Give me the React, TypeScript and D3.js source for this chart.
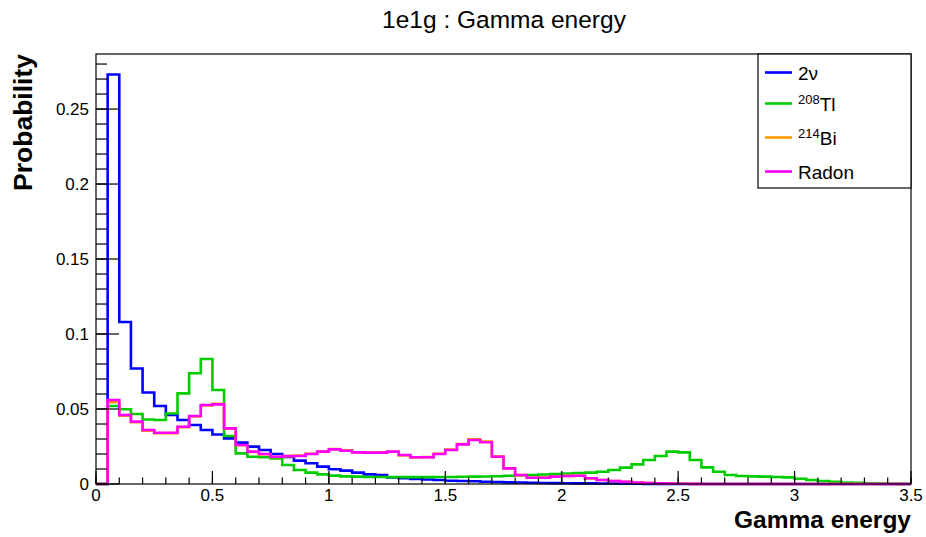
import React from "react";
import * as d3 from "d3";

const binEdges = d3.range(0, 3.5001, 0.05).map((v) => +v.toFixed(2));
const xTickLabels = ["0", "0.5", "1", "1.5", "2", "2.5", "3", "3.5"];
const yTickLabels = ["0", "0.05", "0.1", "0.15", "0.2", "0.25"];

const twoNu = [
  0, 0.273, 0.108, 0.077, 0.061, 0.052, 0.046, 0.0427, 0.0393, 0.036,
  0.033, 0.0304, 0.0276, 0.0249, 0.0227, 0.02, 0.018, 0.0156, 0.0138, 0.0116,
  0.0098, 0.0089, 0.0076, 0.0064, 0.006, 0.0044, 0.0038, 0.0033, 0.003, 0.0027,
  0.0022, 0.002, 0.0018, 0.0015, 0.0013, 0.0011, 0.001, 0.0008, 0.0007, 0.0006,
  0.0005, 0.0004, 0.0004, 0.0003, 0.0003, 0.0002, 0.0002, 0.0001, 0.0001, 0,
  0, 0, 0, 0, 0, 0, 0, 0, 0, 0,
  0, 0, 0, 0, 0, 0, 0, 0, 0, 0,
];

const tl208 = [
  0, 0.052, 0.0498, 0.0467, 0.043, 0.0427, 0.047, 0.0604, 0.0738, 0.0833,
  0.0627, 0.032, 0.0204, 0.0182, 0.0178, 0.017, 0.0127, 0.0093, 0.0076, 0.0064,
  0.0056, 0.0051, 0.0049, 0.0047, 0.0047, 0.0046, 0.0046, 0.0046, 0.0046, 0.0047,
  0.0047, 0.0048, 0.0049, 0.005, 0.0052, 0.0055, 0.0058, 0.006, 0.0063, 0.0066,
  0.007, 0.0073, 0.0076, 0.0082, 0.0093, 0.0109, 0.0131, 0.016, 0.0187, 0.0216,
  0.0211, 0.016, 0.0111, 0.0082, 0.006, 0.0053, 0.0051, 0.0049, 0.0047, 0.0044,
  0.0035, 0.0027, 0.002, 0.0015, 0.001, 0.0008, 0.0005, 0.0003, 0.0002, 0.0001,
];

const bi214 = [
  0, 0.0545, 0.0455, 0.0412, 0.0355, 0.0338, 0.0339, 0.0379, 0.045, 0.0524,
  0.0534, 0.0368, 0.0258, 0.0213, 0.0198, 0.018, 0.0186, 0.0189, 0.0202, 0.0218,
  0.0233, 0.0224, 0.0212, 0.0208, 0.021, 0.0215, 0.0191, 0.0177, 0.0179, 0.0202,
  0.0229, 0.0266, 0.0298, 0.0283, 0.0184, 0.0103, 0.0059, 0.0042, 0.0043, 0.0049,
  0.0054, 0.0055, 0.0037, 0.0027, 0.002, 0.0015, 0.001, 0.0007, 0.0005, 0.0003,
  0.0002, 0.0001, 0, 0, 0, 0, 0, 0, 0, 0,
  0, 0, 0, 0, 0, 0, 0, 0, 0, 0,
];

const radon = [
  0, 0.056, 0.046, 0.0416, 0.036, 0.0342, 0.0342, 0.0382, 0.0453, 0.0527,
  0.0531, 0.0371, 0.026, 0.0216, 0.02, 0.0182, 0.0187, 0.0187, 0.02, 0.0216,
  0.0231, 0.0222, 0.0211, 0.0209, 0.0209, 0.0216, 0.0193, 0.0178, 0.0178, 0.02,
  0.0227, 0.0264, 0.0293, 0.0278, 0.0182, 0.0104, 0.006, 0.0042, 0.0042, 0.0049,
  0.0053, 0.0055, 0.0038, 0.0027, 0.002, 0.0015, 0.001, 0.0007, 0.0005, 0.0003,
  0.0002, 0.0001, 0, 0, 0, 0, 0, 0, 0, 0,
  0, 0, 0, 0, 0, 0, 0, 0, 0, 0,
];

const seriesNames = ["2ν", "208Tl", "214Bi", "Radon"];
const seriesColors = ["#0000ff", "#00cc00", "#ff9900", "#ff00ff"];
const seriesData = [twoNu, tl208, bi214, radon];

const W = 926;
const H = 537;
const FONT = "'Liberation Sans', Arial, Helvetica, sans-serif";

export default function App() {
  const left = 96,
    right = 911,
    top = 54,
    bottom = 484;
  const x = d3.scaleLinear().domain([0, 3.5]).range([left, right]);
  const yMax = 0.2867;
  const y = d3.scaleLinear().domain([0, yMax]).range([bottom, top]);

  const stepPath = (vals: number[]) => {
    const p = d3.path();
    vals.forEach((v, i) => {
      const x0 = x(binEdges[i]);
      const x1 = x(binEdges[i + 1]);
      if (i === 0) p.moveTo(x0, y(v));
      else p.lineTo(x0, y(v));
      p.lineTo(x1, y(v));
    });
    return p.toString();
  };

  const yMinor = d3.range(0, 29).map((i) => i * 0.01).filter((v) => v <= yMax);
  const yMajor = d3.range(0, 6).map((i) => i * 0.05);
  const xMinor = d3.range(0, 36).map((i) => i * 0.1);
  const xMajor = d3.range(0, 8).map((i) => i * 0.5);

  const legendY = [72.5, 103.5, 137.5, 171.5];

  return (
    <svg
      width={W}
      height={H}
      style={{ position: "absolute", left: 0, top: 0, background: "#fff" }}
      fontFamily={FONT}
    >
      <rect x={0} y={0} width={W} height={H} fill="#fff" />
      {/* title */}
      <text x={504} y={28} textAnchor="middle" fontSize={24.5}>
        1e1g : Gamma energy
      </text>

      {/* histograms */}
      {seriesData.map((vals, k) => (
        <path
          key={k}
          d={stepPath(vals)}
          fill="none"
          stroke={seriesColors[k]}
          strokeWidth={2.6}
          strokeLinejoin="miter"
        />
      ))}

      {/* frame */}
      <rect
        x={left}
        y={top}
        width={right - left}
        height={bottom - top}
        fill="none"
        stroke="#000"
        strokeWidth={1.2}
      />

      {/* y ticks */}
      {yMinor.map((v, i) => (
        <line key={"ym" + i} x1={left} x2={left + 11} y1={y(v)} y2={y(v)} stroke="#000" strokeWidth={1.2} />
      ))}
      {yMajor.map((v, i) => (
        <line key={"yM" + i} x1={left} x2={left + 23} y1={y(v)} y2={y(v)} stroke="#000" strokeWidth={1.2} />
      ))}
      {yMajor.map((v, i) => (
        <text key={"yl" + i} x={89} y={y(v) + 6} textAnchor="end" fontSize={17}>
          {yTickLabels[i]}
        </text>
      ))}

      {/* x ticks */}
      {xMinor.map((v, i) => (
        <line key={"xm" + i} x1={x(v)} x2={x(v)} y1={bottom} y2={bottom - 6.5} stroke="#000" strokeWidth={1.2} />
      ))}
      {xMajor.map((v, i) => (
        <line key={"xM" + i} x1={x(v)} x2={x(v)} y1={bottom} y2={bottom - 13} stroke="#000" strokeWidth={1.2} />
      ))}
      {xMajor.map((v, i) => (
        <text key={"xl" + i} x={x(v)} y={501} textAnchor="middle" fontSize={17}>
          {xTickLabels[i]}
        </text>
      ))}

      {/* axis titles */}
      <text x={911} y={528} textAnchor="end" fontSize={24.5} fontWeight="bold">
        Gamma energy
      </text>
      <text
        transform="translate(32,54) rotate(-90)"
        textAnchor="end"
        fontSize={26.5}
        fontWeight="bold"
      >
        Probability
      </text>

      {/* legend */}
      <rect x={758} y={54} width={153} height={134} fill="#fff" stroke="#000" strokeWidth={1.2} />
      {seriesNames.map((name, i) => (
        <g key={"lg" + i}>
          <line x1={765} x2={792} y1={legendY[i]} y2={legendY[i]} stroke={seriesColors[i]} strokeWidth={2.6} />
          <text x={798} y={legendY[i] + 7} fontSize={19}>
            {name === "208Tl" ? (
              <>
                <tspan fontSize={13} dy={-7}>208</tspan>
                <tspan dy={7}>Tl</tspan>
              </>
            ) : name === "214Bi" ? (
              <>
                <tspan fontSize={13} dy={-7}>214</tspan>
                <tspan dy={7}>Bi</tspan>
              </>
            ) : (
              name
            )}
          </text>
        </g>
      ))}
    </svg>
  );
}
